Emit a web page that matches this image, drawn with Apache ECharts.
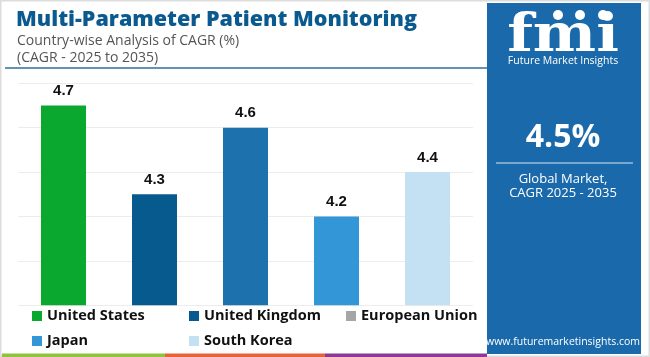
<!DOCTYPE html>
<html>
<head>
<meta charset="utf-8">
<script src="https://cdn.jsdelivr.net/npm/echarts@6/dist/echarts.min.js"></script>
<style>
html,body{margin:0;padding:0;background:#fff;}
#c{width:650px;height:357px;}
</style>
</head>
<body>
<div id="c"></div>
<script>
var categories = ['United States', 'United Kingdom', 'European Union', 'Japan', 'South Korea'];
var cagrValues = [4.7, 4.3, 4.6, 4.2, 4.4];
var barColors = ['#0aa82f', '#065a8e', '#1d71ad', '#3396d6', '#c4e1f3'];
var legendColors = ['#0aa82f', '#065a8e', '#a6a6a6', '#3396d6', '#c4e1f3'];
var globalCagr = '4.5%';

var FONT = '"Open Sans", "DejaVu Sans", sans-serif';
var chart = echarts.init(document.getElementById('c'), null, {renderer: 'canvas'});

var series = categories.map(function (name, i) {
  var d = categories.map(function (_, j) { return j === i ? cagrValues[i] : null; });
  return {
    name: name,
    type: 'bar',
    data: d,
    barWidth: 45,
    barGap: '-100%',
    itemStyle: {color: barColors[i]},
    label: {
      show: true, position: 'top', distance: 7,
      fontFamily: 'Liberation Sans, Arial, sans-serif', fontWeight: 'bold', fontSize: 15, color: '#111',
      formatter: function (p) { return p.value.toFixed(1); }
    }
  };
});

function legendData(idx) {
  return idx.map(function (i) { return {name: categories[i], itemStyle: {color: legendColors[i]}}; });
}
var legendStyle = {
  fontFamily: FONT, fontWeight: 'bold', fontSize: 14.5, color: '#111', width: 132, lineHeight: 16
};

chart.setOption({
  animation: false,
  title: [
    {text: 'Multi-Parameter Patient Monitoring', left: 11, top: 4,
     textStyle: {fontFamily: FONT, fontWeight: 800, fontSize: 21.5, color: '#0b5a8f'}},
    {text: 'Country-wise Analysis of CAGR (%)', left: 12, top: 29,
     textStyle: {fontFamily: FONT, fontWeight: 'normal', fontSize: 14, color: '#555'}},
    {text: '(CAGR - 2025 to 2035)', left: 12, top: 46.5,
     textStyle: {fontFamily: FONT, fontWeight: 'normal', fontSize: 14, color: '#555'}}
  ],
  grid: {left: 18, right: 177, top: 83.3, bottom: 51.7},
  xAxis: {
    type: 'category', data: categories,
    axisLine: {show: false}, axisTick: {show: false}, axisLabel: {show: false}
  },
  yAxis: {
    type: 'value', min: 3.8, max: 4.8, interval: 0.2,
    axisLine: {show: false}, axisTick: {show: false}, axisLabel: {show: false},
    splitLine: {lineStyle: {color: '#ececec', width: 1}}
  },
  legend: [
    {data: legendData([0, 1, 2]), left: 32, top: 308, padding: 0, itemWidth: 10, itemHeight: 10,
     itemGap: 10, icon: 'rect', textStyle: legendStyle, selectedMode: false},
    {data: legendData([3, 4]), left: 32, top: 333, padding: 0, itemWidth: 10, itemHeight: 10,
     itemGap: 10, icon: 'rect', textStyle: legendStyle, selectedMode: false}
  ],
  series: series,
  graphic: [
    {type: 'rect', shape: {x: 0.75, y: 0.75, width: 648.5, height: 355.5},
     style: {fill: 'none', stroke: '#dcdcdc', lineWidth: 1.5}, z: 0},
    {type: 'line', shape: {x1: 5, y1: 68, x2: 487, y2: 68},
     style: {stroke: '#2e6e9e', lineWidth: 1.5}},
    {type: 'rect', shape: {x: 2, y: 353.5, width: 163, height: 3.5}, style: {fill: '#8cc43f'}},
    {type: 'rect', shape: {x: 165, y: 353.5, width: 160, height: 3.5}, style: {fill: '#e5623b'}},
    {type: 'rect', shape: {x: 325, y: 353.5, width: 162, height: 3.5}, style: {fill: '#8b3a94'}},
    {type: 'rect', shape: {x: 487, y: 3, width: 154, height: 351}, style: {fill: '#1a6aab'}},
    {type: 'text', x: 563, y: 37, scaleX: 1.15, scaleY: 1, originX: 0, originY: 0,
     style: {text: 'fmi', fill: '#fff', font: 'bold 52px "DejaVu Serif", serif',
     textAlign: 'center', textVerticalAlign: 'middle'}},
    {type: 'circle', shape: {cx: 558, cy: 15, r: 5}, style: {fill: '#fff'}},
    {type: 'circle', shape: {cx: 580, cy: 15, r: 5}, style: {fill: '#fff'}},
    {type: 'circle', shape: {cx: 603, cy: 15, r: 5}, style: {fill: '#fff'}},
    {type: 'text', x: 563, y: 61, style: {text: 'Future Market Insights', fill: '#fff',
     font: '10.5px ' + FONT, textAlign: 'center', textVerticalAlign: 'middle'}},
    {type: 'text', x: 563, y: 138, style: {text: globalCagr, fill: '#fff',
     font: 'bold 32px ' + FONT, textAlign: 'center', textVerticalAlign: 'middle'}},
    {type: 'line', shape: {x1: 496, y1: 163, x2: 633, y2: 163}, style: {stroke: '#d6e6f3', lineWidth: 1.2}},
    {type: 'text', x: 563, y: 179, style: {text: 'Global Market,', fill: '#fff',
     font: '13px ' + FONT, textAlign: 'center', textVerticalAlign: 'middle'}},
    {type: 'text', x: 563, y: 193, style: {text: 'CAGR 2025 - 2035', fill: '#fff',
     font: '13px ' + FONT, textAlign: 'center', textVerticalAlign: 'middle'}},
    {type: 'text', x: 563, y: 342, style: {text: 'www.futuremarketinsights.com', fill: '#fff',
     font: '10.5px ' + FONT, textAlign: 'center', textVerticalAlign: 'middle'}}
  ]
});
</script>
</body>
</html>
